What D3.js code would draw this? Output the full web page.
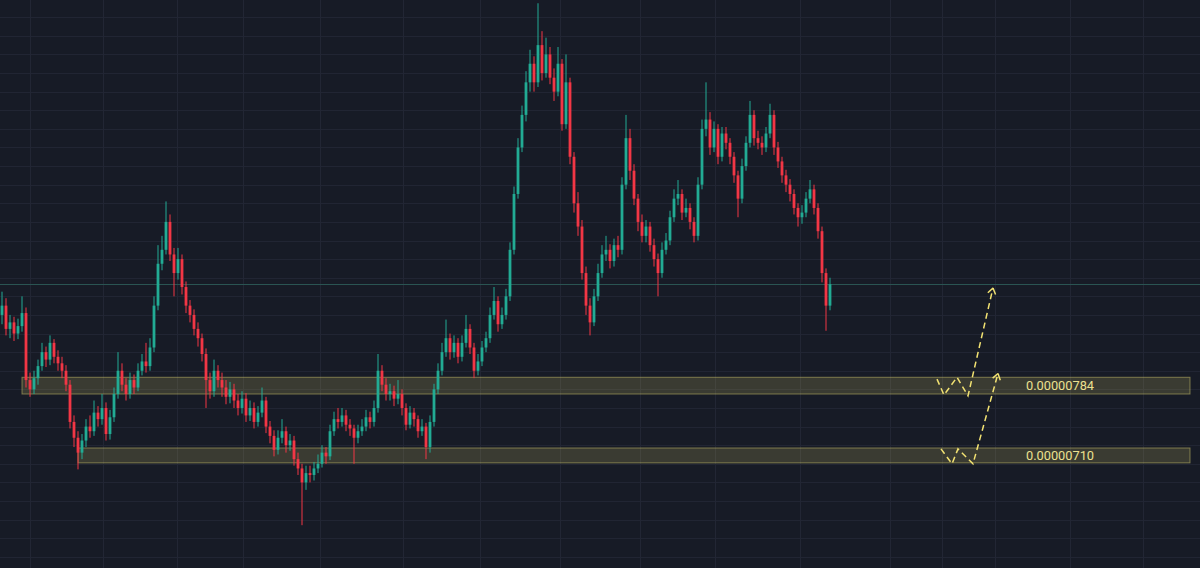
<!DOCTYPE html>
<html>
<head>
<meta charset="utf-8">
<script src="https://cdn.jsdelivr.net/npm/d3@7/dist/d3.min.js"></script>
<style>
html,body{margin:0;padding:0;background:#171b26;overflow:hidden;}
</style>
</head>
<body>
<div id="chart"></div>
<script>
(function(){
var width = 1200,
	height = 568;

// prices are in units of 1e-8
var opens = [860,870,845,852,840,848,862,790,780,792,
	805,820,812,830,815,808,800,785,745,728,
	712,725,740,735,755,748,760,732,750,775,
	800,785,775,790,782,800,810,805,825,870,
	915,930,960,925,905,920,890,870,860,845,
	835,818,790,778,800,790,782,772,780,768,
	760,770,752,760,745,755,768,740,730,715,
	728,735,720,725,705,695,680,690,688,695,
	700,712,708,735,748,745,752,742,738,728,
	735,740,750,745,760,800,785,775,778,770,
	775,760,742,755,748,735,740,718,745,780,
	800,820,835,820,830,815,830,845,825,800,
	810,825,835,860,875,850,860,880,930,990,
	1040,1075,1110,1130,1110,1150,1120,1140,1115,1100,
	1130,1065,1110,1030,980,955,905,870,852,880,
	905,925,930,918,935,930,1000,1050,1015,985,
	960,945,955,935,920,905,930,940,965,985,
	990,970,975,960,945,1000,1060,1070,1040,1060,
	1030,1055,1045,1030,1010,985,1020,1045,1075,1050,
	1045,1040,1055,1075,1040,1025,1010,1000,990,975,
	965,970,985,995,975,950,905,870];

var closes = [870,845,852,840,848,862,790,780,792,805,
	820,812,830,815,808,800,785,745,728,712,
	725,740,735,755,748,760,732,750,775,800,
	785,775,790,782,800,810,805,825,870,915,
	930,960,925,905,920,890,870,860,845,835,
	818,790,778,800,790,782,772,780,768,760,
	770,752,760,745,755,768,740,730,715,728,
	735,720,725,705,695,680,690,688,695,700,
	712,708,735,748,745,752,742,738,728,735,
	740,750,745,760,800,785,775,778,770,775,
	760,742,755,748,735,740,718,745,780,800,
	820,835,820,830,815,830,845,825,800,810,
	825,835,860,875,850,860,880,930,990,1040,
	1075,1110,1130,1110,1150,1120,1140,1115,1100,1130,
	1065,1110,1030,980,955,905,870,852,880,905,
	925,930,918,935,930,1000,1050,1015,985,960,
	945,955,935,920,905,930,940,965,985,990,
	970,975,960,945,1000,1060,1070,1040,1060,1030,
	1055,1045,1030,1010,985,1020,1045,1075,1050,1045,
	1040,1055,1075,1040,1025,1010,1000,990,975,965,
	970,985,995,975,950,905,870,893];

var highs = [885,878,860,858,856,880,868,798,800,812,
	830,826,838,834,822,815,806,790,752,735,
	732,748,752,768,762,775,766,758,782,820,
	808,792,798,796,808,818,830,835,880,935,
	945,982,968,932,932,925,896,876,866,852,
	840,824,798,812,806,798,790,788,786,775,
	778,776,768,766,762,782,772,746,736,736,
	748,740,732,730,712,700,698,698,702,710,
	720,718,742,756,760,760,758,748,742,742,
	748,758,756,768,818,806,792,786,784,790,
	780,765,762,760,752,748,744,752,786,808,
	830,855,840,838,835,838,860,850,830,818,
	832,842,868,890,880,868,888,938,998,1050,
	1085,1122,1145,1138,1195,1165,1158,1148,1125,1148,
	1135,1140,1115,1035,992,962,912,878,888,915,
	935,945,936,942,945,1008,1075,1060,1022,990,
	968,962,960,942,926,938,948,972,995,1005,
	995,985,980,965,1008,1070,1110,1078,1068,1065,
	1062,1062,1050,1035,1015,1028,1052,1090,1080,1058,
	1052,1062,1087,1080,1046,1030,1016,1006,995,980,
	978,992,1005,1000,980,955,910,900];

var lows = [850,838,835,832,834,842,782,772,775,785,
	800,804,806,808,800,792,778,738,718,694,
	705,718,728,730,740,742,725,726,745,770,
	778,768,770,775,778,795,798,800,820,865,
	908,925,918,880,898,882,862,852,838,826,
	810,760,770,772,782,772,764,765,760,752,
	754,745,746,738,740,750,733,722,708,710,
	722,712,714,698,688,634,672,680,682,690,
	696,700,704,730,738,740,735,730,700,722,
	730,735,738,740,755,778,768,768,762,764,
	752,736,738,740,728,730,705,712,740,775,
	795,815,812,814,808,810,825,818,792,795,
	805,820,830,855,842,845,855,875,925,985,
	1035,1068,1100,1100,1105,1112,1115,1108,1090,1095,
	1058,1060,1022,970,945,898,860,838,848,875,
	900,918,910,912,922,925,995,1005,978,950,
	938,938,928,912,880,900,925,935,960,978,
	962,965,952,938,940,995,1052,1032,1035,1022,
	1025,1038,1022,1002,965,980,1015,1040,1042,1038,
	1032,1035,1050,1032,1018,1002,992,982,968,955,
	958,965,980,968,942,895,843,865];

// support zones
var zoneLow = [775, 701],
	zoneHigh = [793, 717],
	zoneStart = [5, 19],
	zoneEnd = 297,
	zoneLabel = ["0.00000784", "0.00000710"],
	zoneLabelAt = 264.5;

// projected paths (bar index, price)
var pathUpIdx = [233.75, 235.5, 238.75, 241.5, 247.75],
	pathUpPrice = [791, 774, 793, 773, 889];
var pathLowIdx = [234.75, 237.5, 239, 242.75, 249],
	pathLowPrice = [716, 700, 716, 700, 797];

// time grid (bar index)
var timeTicks = [7, 25.25, 43.75, 60.25, 79.5, 100.25, 119.5, 139.5, 159.5, 178.25, 199.5, 222, 235, 248.25, 267, 285.25];

var X = d3.scaleLinear().domain([-0.5, 299.5]).range([0, width]);
var Y = d3.scaleLinear().domain([588, 1198.5]).range([height, 0]);

var up = "#22ab94", down = "#f23645";

var svg = d3.select("#chart").append("svg")
	.attr("width", width)
	.attr("height", height)
	.style("display", "block")
	.style("background", "#171b26");

// grid
svg.append("g").selectAll("line").data(Y.ticks(30)).enter().append("line")
	.attr("x1", 0).attr("x2", width)
	.attr("y1", function(d){ return Math.round(Y(d)) + 0.5; })
	.attr("y2", function(d){ return Math.round(Y(d)) + 0.5; })
	.attr("stroke", "#212533").attr("stroke-width", 1);

svg.append("g").selectAll("line").data(timeTicks).enter().append("line")
	.attr("y1", 0).attr("y2", height)
	.attr("x1", function(d){ return Math.round(X(d)) + 0.5; })
	.attr("x2", function(d){ return Math.round(X(d)) + 0.5; })
	.attr("stroke", "#222634").attr("stroke-width", 1);

// zones
var zones = d3.range(zoneLow.length);
svg.append("g").selectAll("rect").data(zones).enter().append("rect")
	.attr("x", function(i){ return X(zoneStart[i]); })
	.attr("width", function(i){ return X(zoneEnd) - X(zoneStart[i]); })
	.attr("y", function(i){ return Y(zoneHigh[i]); })
	.attr("height", function(i){ return Y(zoneLow[i]) - Y(zoneHigh[i]); })
	.attr("fill", "rgba(200,190,100,0.2)")
	.attr("stroke", "rgba(210,200,110,0.5)")
	.attr("stroke-width", 1);

// last price line
var last = closes[closes.length - 1];
svg.append("line")
	.attr("x1", 0).attr("x2", width)
	.attr("y1", Math.round(Y(last)) + 0.5).attr("y2", Math.round(Y(last)) + 0.5)
	.attr("stroke", "#2a5452").attr("stroke-width", 1);

// candles
var bars = d3.range(closes.length);
var cw = 2.8;
var candles = svg.append("g").selectAll("g").data(bars).enter().append("g");
candles.append("line")
	.attr("x1", function(i){ return X(i); })
	.attr("x2", function(i){ return X(i); })
	.attr("y1", function(i){ return Y(highs[i]); })
	.attr("y2", function(i){ return Y(lows[i]); })
	.attr("stroke", function(i){ return closes[i] >= opens[i] ? up : down; })
	.attr("stroke-width", 1);
candles.append("rect")
	.attr("x", function(i){ return X(i) - cw/2; })
	.attr("width", cw)
	.attr("y", function(i){ return Y(Math.max(opens[i], closes[i])); })
	.attr("height", function(i){ return Math.max(1, Math.abs(Y(opens[i]) - Y(closes[i]))); })
	.attr("fill", function(i){ return closes[i] >= opens[i] ? up : down; });

// projection paths
var line = d3.line().x(function(d){ return X(d[0]); }).y(function(d){ return Y(d[1]); });
function drawPath(idx, price){
	var pts = idx.map(function(d, k){ return [d, price[k]]; });
	svg.append("path").attr("d", line(pts))
		.attr("fill", "none")
		.attr("stroke", "#f2e272")
		.attr("stroke-width", 1.5)
		.attr("stroke-dasharray", "6,4");
	var a = pts[pts.length - 2], b = pts[pts.length - 1];
	var ax = X(a[0]), ay = Y(a[1]), bx = X(b[0]), by = Y(b[1]);
	var ang = Math.atan2(ay - by, ax - bx);
	[0.6, -0.6].forEach(function(o){
		svg.append("line")
			.attr("x1", bx).attr("y1", by)
			.attr("x2", bx + 7 * Math.cos(ang + o))
			.attr("y2", by + 7 * Math.sin(ang + o))
			.attr("stroke", "#f2e272").attr("stroke-width", 1.5);
	});
}
drawPath(pathUpIdx, pathUpPrice);
drawPath(pathLowIdx, pathLowPrice);

// zone labels
svg.append("g").selectAll("text").data(zones).enter().append("text")
	.attr("x", X(zoneLabelAt))
	.attr("y", function(i){ return (Y(zoneLow[i]) + Y(zoneHigh[i])) / 2; })
	.attr("dy", "0.36em")
	.attr("text-anchor", "middle")
	.attr("fill", "#ece08f")
	.style("font-family", "Roboto, 'Noto Sans', sans-serif")
	.style("font-size", "12.8px")
	.text(function(i){ return zoneLabel[i]; });

})()
</script>
</body>
</html>
